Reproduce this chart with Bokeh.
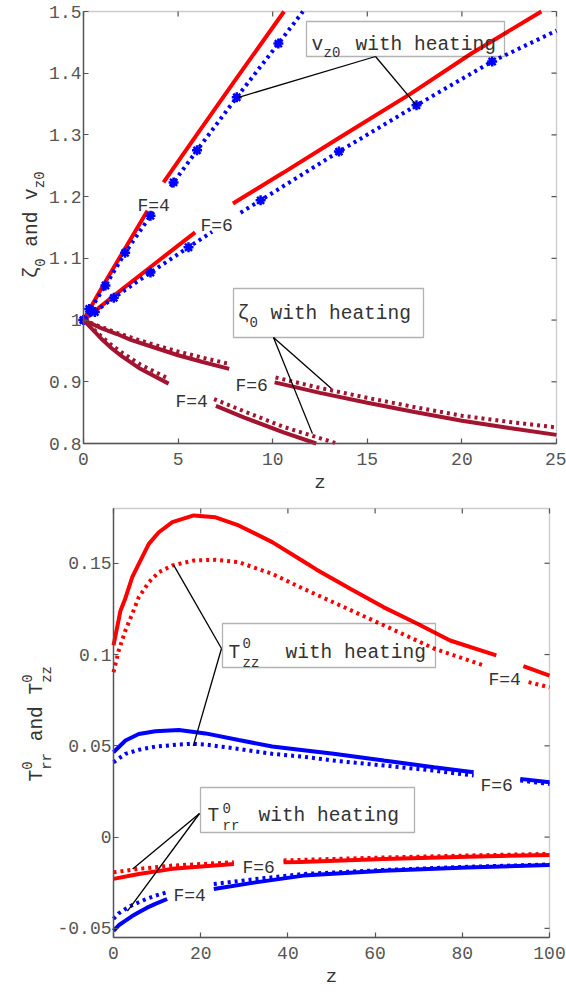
import math
from bokeh.plotting import figure
from bokeh.models import Range1d, FixedTicker, Label, BoxAnnotation
from bokeh.embed import file_html
from bokeh.resources import INLINE

nan = float("nan")

# ---------------- top panel data (z, zeta_0 / v_z0) ----------------
vz_f4_z = [0, 1, 2, 3.38, nan, 4.23, 6, 8, 10.6]
vz_f4 = [1.0, 1.054, 1.106, 1.177, nan, 1.223, 1.301, 1.388, 1.5]
vzh_f4_z = [0, 0.5, 1.16, 2.2, 3.54, 3.7, nan, 4.6, 4.76, 6.0, 8.1, 10.3, 11.6]
vzh_f4 = [1.0, 1.024, 1.056, 1.109, 1.169, 1.175, nan, 1.216, 1.223, 1.275, 1.361, 1.448, 1.5]
vzh_f4_star_z = [0, 0.3, 1.16, 2.2, 3.54, 4.76, 6.0, 8.1, 10.3]
vzh_f4_star = [1.0, 1.018, 1.056, 1.109, 1.169, 1.223, 1.275, 1.361, 1.448]

vz_f6_z = [0, 2, 4, 5.9, nan, 7.9, 10.57, 13.5, 17.3, 20.5, 24.2]
vz_f6 = [1.0, 1.049, 1.097, 1.142, nan, 1.189, 1.239, 1.295, 1.367, 1.432, 1.5]
vzh_f6_z = [0, 1.6, 3.54, 5.55, 6.8, nan, 8.3, 9.36, 13.5, 17.6, 21.6, 25]
vzh_f6 = [1.0, 1.036, 1.077, 1.118, 1.143, nan, 1.174, 1.194, 1.273, 1.348, 1.419, 1.469]
vzh_f6_star_z = [0, 0.6, 1.6, 3.54, 5.55, 9.36, 13.5, 17.6, 21.6]
vzh_f6_star = [1.0, 1.013, 1.036, 1.077, 1.118, 1.194, 1.273, 1.348, 1.419]

zeta_f6_z = [0, 0.5, 1, 1.8, 2.5, 3.5, 5, 6.3, 7.7, nan, 10.1, 12.5, 15, 17.5, 20, 22.5, 25]
zeta_f6 = [1.0, 0.993, 0.986, 0.977, 0.968, 0.958, 0.943, 0.932, 0.921, nan,
           0.899, 0.882, 0.866, 0.851, 0.837, 0.825, 0.814]
zetah_f6_z = [0, 0.5, 1, 1.8, 2.5, 3.5, 5, 6.3, 7.7, nan, 10.15, 12.5, 15, 17.5, 20, 22.5, 25]
zetah_f6 = [1.0, 0.994, 0.988, 0.979, 0.972, 0.962, 0.949, 0.939, 0.929, nan,
            0.907, 0.890, 0.874, 0.859, 0.845, 0.835, 0.826]

zeta_f4_z = [0, 0.5, 1, 1.5, 2, 3, 4.5, nan, 7.0, 8.5, 10.57, 12.3]
zeta_f4 = [1.0, 0.984, 0.968, 0.954, 0.942, 0.921, 0.897, nan, 0.861, 0.842, 0.818, 0.8]
zetah_f4_z = [0, 0.5, 1, 1.5, 2, 3, 4.5, nan, 6.9, 8.5, 10.57, 13.4]
zetah_f4 = [1.0, 0.986, 0.972, 0.959, 0.948, 0.928, 0.905, nan, 0.872, 0.852, 0.827, 0.8]

top_xlim = (0, 25)
top_ylim = (0.8, 1.5)
top_xticks = [0, 5, 10, 15, 20, 25]
top_yticks = [0.8, 0.9, 1.0, 1.1, 1.2, 1.3, 1.4, 1.5]
top_ylabels = ["0.8", "0.9", "1", "1.1", "1.2", "1.3", "1.4", "1.5"]

# ---------------- bottom panel data (z, T_rr^0 / T_zz^0) ----------------
tzz_f4_z = [0, 0.85, 1.6, 2.75, 4.3, 5.8, 8.1, 10.4, 13.5, 18.4, 23.4, 28.7, 36.4, 43.6,
            46.6, 54.3, 61.9, 69.6, 77.2, 87.8, nan, 94, 100]
tzz_f4 = [0.105, 0.115, 0.124, 0.131, 0.1424, 0.1497, 0.1606, 0.167, 0.1725, 0.1762, 0.1752,
          0.1707, 0.1616, 0.151, 0.1465, 0.136, 0.126, 0.117, 0.1077, 0.0995, nan, 0.0936, 0.0885]
tzzh_f4_z = [0, 1.2, 2.75, 4.3, 5.8, 8.1, 10.4, 13.5, 18.4, 23.4, 28.7, 36.4, 43.6, 51, 59.6,
             66, 73.8, 84.9, nan, 95.2, 100]
tzzh_f4 = [0.0903, 0.1022, 0.1133, 0.1223, 0.1314, 0.1396, 0.1451, 0.1488, 0.1515, 0.1519,
           0.1506, 0.1442, 0.136, 0.128, 0.1186, 0.1116, 0.103, 0.094, nan, 0.0849, 0.082]

tzz_f6_z = [0, 2.75, 5.8, 9.6, 15, 21.1, 28.7, 36.4, 43.6, 50.5, 62, 73.5, 82.6, nan, 93.3, 100]
tzz_f6 = [0.0465, 0.0529, 0.0565, 0.058, 0.0587, 0.0568, 0.0532, 0.0496, 0.0476, 0.0456,
          0.0419, 0.0383, 0.0355, nan, 0.0319, 0.030]
tzzh_f6_z = [0, 2.75, 5.8, 9.6, 15, 18.1, 21.1, 28.7, 36.4, 43.6, 50.5, 62, 73.5, 82.6, nan, 93.3, 100]
tzzh_f6 = [0.041, 0.0456, 0.0478, 0.0496, 0.0507, 0.0511, 0.0507, 0.0483, 0.0456, 0.0440,
           0.0419, 0.0392, 0.0364, 0.0337, nan, 0.031, 0.0291]

trr_f6_z = [0, 5.8, 13.5, 27.6, nan, 39, 42.9, 62, 81.1, 100]
trr_f6 = [-0.0229, -0.0202, -0.0174, -0.0147, nan, -0.0138, -0.0136, -0.012, -0.0107, -0.0098]
trrh_f6_z = [0, 5.8, 13.5, 27.6, nan, 39, 42.9, 62, 81.1, 100]
trrh_f6 = [-0.0193, -0.0174, -0.0156, -0.0138, nan, -0.0128, -0.0125, -0.0112, -0.0101, -0.0092]

trr_f4_z = [0, 1.2, 2.75, 4.2, 5.8, 7.6, 9.6, 12.3, nan, 23, 32.6, 43.6, 62, 81.1, 100]
trr_f4 = [-0.0513, -0.0483, -0.0458, -0.0434, -0.0412, -0.0388, -0.0366, -0.0339, nan,
          -0.0284, -0.0248, -0.0211, -0.0184, -0.0166, -0.0153]
trrh_f4_z = [0, 1.2, 2.75, 4.2, 5.8, 7.6, 9.6, 12.3, nan, 23, 32.6, 43.6, 62, 81.1, 100]
trrh_f4 = [-0.0448, -0.0418, -0.0394, -0.0374, -0.0357, -0.0338, -0.0321, -0.0302, nan,
           -0.0257, -0.023, -0.0202, -0.018, -0.0163, -0.015]

bot_xlim = (0, 100)
bot_ylim = (-0.055, 0.18)
bot_xticks = [0, 20, 40, 60, 80, 100]
bot_yticks = [-0.05, 0, 0.05, 0.1, 0.15]
bot_ylabels = ["-0.05", "0", "0.05", "0.1", "0.15"]

# leader-line targets on curves (data coords)
vz_targets = [(8.2, 1.361), (17.6, 1.348)]
zeta_targets = [(13.1, 0.889), (12.1, 0.816)]
tzz_targets = [(13.8, 0.149), (18.3, 0.050)]
trr_targets = [(4.4, -0.0175), (3.2, -0.0405)]

RED = "#FF0000"
BLUE = "#0000FF"
DRED = "#A2142F"
AX = "#555555"
TXT = "#333333"
FONT = "Liberation Mono"
LW = 4
DOT = "3 4"
W = 566
CH = 11.7   # advance of one 19.5px mono character
SCH = 8.4   # advance of one 14px mono character


def make_fig(fx, fy, h, yoff, xlim, ylim, xt, yt, ylabels):
    """Frame covers the whole canvas; axes are pinned at the data box edges."""
    p = figure(width=W, height=h, x_range=Range1d(fx(0), fx(W)),
               y_range=Range1d(fy(yoff + h), fy(yoff)),
               output_backend="svg", toolbar_location=None,
               min_border=0, min_border_left=0, min_border_right=0,
               min_border_top=0, min_border_bottom=0)
    p.xgrid.visible = False
    p.ygrid.visible = False
    p.outline_line_color = None
    p.background_fill_color = "white"
    p.border_fill_color = "white"
    xa = p.xaxis[0]
    ya = p.yaxis[0]
    xa.fixed_location = ylim[0]
    ya.fixed_location = xlim[0]
    xa.bounds = xlim
    ya.bounds = ylim
    xa.ticker = FixedTicker(ticks=xt)
    ya.ticker = FixedTicker(ticks=yt)
    ya.major_label_overrides = {t: l for t, l in zip(yt, ylabels)}
    xa.major_label_overrides = {t: str(t) for t in xt}
    for ax in (xa, ya):
        ax.major_tick_in = 5
        ax.major_tick_out = 0
        ax.minor_tick_line_color = None
        ax.axis_line_color = AX
        ax.axis_line_width = 1.4
        ax.major_tick_line_color = AX
        ax.major_tick_line_width = 1.2
        ax.major_label_text_font = FONT
        ax.major_label_text_font_size = "18px"
        ax.major_label_text_color = AX
    xa.major_label_standoff = 9
    ya.major_label_standoff = 2
    xa.axis_label = "z"
    xa.axis_label_text_font = FONT
    xa.axis_label_text_font_size = "19px"
    xa.axis_label_text_font_style = "normal"
    xa.axis_label_text_color = TXT
    xa.axis_label_standoff = 4
    # frame box
    p.add_layout(BoxAnnotation(left=xlim[0], right=xlim[1], bottom=ylim[0], top=ylim[1],
                               fill_alpha=0, line_color=AX, line_width=1.4, level="underlay"))
    # inward ticks on the top and right frame edges (5 px)
    dy = fy(yoff) - fy(yoff + 5)
    dx = fx(5) - fx(0)
    p.segment(x0=xt, y0=[ylim[1]] * len(xt), x1=xt, y1=[ylim[1] - dy] * len(xt),
              color=AX, line_width=1.2)
    p.segment(x0=[xlim[1]] * len(yt), y0=yt, x1=[xlim[1] - dx] * len(yt), y1=yt,
              color=AX, line_width=1.2)
    return p


def txt(p, x, y, s, size, color=TXT, angle=0.0):
    p.add_layout(Label(x=x, y=y, text=s, text_font=FONT, text_font_size=f"{size}px",
                       text_color=color, angle=angle, text_align="left",
                       text_baseline="alphabetic"))


A = math.pi / 2

# ---------- TOP ----------
TX0, TX1, TY0, TY1 = 83, 556, 11, 443
def tfx(px):
    return (px - TX0) / (TX1 - TX0) * (top_xlim[1] - top_xlim[0]) + top_xlim[0]
def tfy(py):
    return top_ylim[1] - (py - TY0) / (TY1 - TY0) * (top_ylim[1] - top_ylim[0])

top = make_fig(tfx, tfy, 500, 0, top_xlim, top_ylim, top_xticks, top_yticks, top_ylabels)

top.line(vz_f4_z, vz_f4, color=RED, line_width=LW)
top.line(vz_f6_z, vz_f6, color=RED, line_width=LW)
top.line(vzh_f4_z, vzh_f4, color=BLUE, line_width=LW, line_dash=DOT)
top.line(vzh_f6_z, vzh_f6, color=BLUE, line_width=LW, line_dash=DOT)
top.scatter(vzh_f4_star_z, vzh_f4_star, marker="asterisk", size=10, line_width=2.5, color=BLUE)
top.scatter(vzh_f6_star_z, vzh_f6_star, marker="asterisk", size=10, line_width=2.5, color=BLUE)
top.line(zeta_f6_z, zeta_f6, color=DRED, line_width=LW)
top.line(zetah_f6_z, zetah_f6, color=DRED, line_width=LW, line_dash=DOT)
top.line(zeta_f4_z, zeta_f4, color=DRED, line_width=LW)
top.line(zetah_f4_z, zetah_f4, color=DRED, line_width=LW, line_dash=DOT)

for (zx, zy) in vz_targets:
    top.segment(x0=[tfx(375)], y0=[tfy(56)], x1=[zx], y1=[zy], color="black", line_width=1.3)
for (zx, zy) in zeta_targets:
    top.segment(x0=[tfx(273)], y0=[tfy(337)], x1=[zx], y1=[zy], color="black", line_width=1.3)

top.add_layout(BoxAnnotation(left=tfx(306), right=tfx(504), top=tfy(21), bottom=tfy(56),
                             fill_alpha=0, line_color="black", line_width=1.3))
top.add_layout(BoxAnnotation(left=tfx(233), right=tfx(423), top=tfy(288), bottom=tfy(337),
                             fill_alpha=0, line_color="black", line_width=1.3))
txt(top, tfx(311), tfy(44), "v", 19.5)
txt(top, tfx(323), tfy(52), "z0", 14)
txt(top, tfx(355), tfy(44), "with heating", 19.5)
txt(top, tfx(237), tfy(313), "ζ", 19.5)
txt(top, tfx(249), tfy(321), "0", 14)
txt(top, tfx(270), tfy(313), "with heating", 19.5)

txt(top, tfx(137), tfy(205), "F=4", 18)
txt(top, tfx(200), tfy(225), "F=6", 18)
txt(top, tfx(235), tfy(385), "F=6", 18)
txt(top, tfx(175), tfy(401), "F=4", 18)

# rotated y label: ζ0 and vz0  (reads upward)
y0 = 278
txt(top, tfx(31), tfy(y0), "ζ", 19.5, angle=A)
y0 -= CH
txt(top, tfx(39), tfy(y0), "0", 14, angle=A)
y0 -= SCH * 1 + CH          # subscript then one space
txt(top, tfx(31), tfy(y0), "and v", 19.5, angle=A)
y0 -= 5 * CH
txt(top, tfx(39), tfy(y0), "z0", 14, angle=A)

# ---------- BOTTOM ----------
BX0, BX1, BY0, BY1 = 113, 549, 508, 937
def bfx(px):
    return (px - BX0) / (BX1 - BX0) * (bot_xlim[1] - bot_xlim[0]) + bot_xlim[0]
def bfy(py):
    return bot_ylim[1] - (py - BY0) / (BY1 - BY0) * (bot_ylim[1] - bot_ylim[0])

bot = make_fig(bfx, bfy, 496, 500, bot_xlim, bot_ylim, bot_xticks, bot_yticks, bot_ylabels)

bot.line(tzz_f4_z, tzz_f4, color=RED, line_width=LW)
bot.line(tzzh_f4_z, tzzh_f4, color=RED, line_width=LW, line_dash=DOT)
bot.line(tzz_f6_z, tzz_f6, color=BLUE, line_width=LW)
bot.line(tzzh_f6_z, tzzh_f6, color=BLUE, line_width=LW, line_dash=DOT)
bot.line(trr_f6_z, trr_f6, color=RED, line_width=LW)
bot.line(trrh_f6_z, trrh_f6, color=RED, line_width=LW, line_dash=DOT)
bot.line(trr_f4_z, trr_f4, color=BLUE, line_width=LW)
bot.line(trrh_f4_z, trrh_f4, color=BLUE, line_width=LW, line_dash=DOT)

for (zx, zy) in tzz_targets:
    bot.segment(x0=[bfx(221)], y0=[bfy(648)], x1=[zx], y1=[zy], color="black", line_width=1.3)
for (zx, zy) in trr_targets:
    bot.segment(x0=[bfx(199)], y0=[bfy(813)], x1=[zx], y1=[zy], color="black", line_width=1.3)

bot.add_layout(BoxAnnotation(left=bfx(222), right=bfx(435), top=bfy(623), bottom=bfy(667),
                             fill_alpha=0, line_color="black", line_width=1.3))
bot.add_layout(BoxAnnotation(left=bfx(200), right=bfx(414), top=bfy(787), bottom=bfy(832),
                             fill_alpha=0, line_color="black", line_width=1.3))
txt(bot, bfx(228), bfy(652), "T", 19.5)
txt(bot, bfx(242), bfy(642), "0", 14)
txt(bot, bfx(242), bfy(662), "zz", 14)
txt(bot, bfx(285), bfy(652), "with heating", 19.5)
txt(bot, bfx(207), bfy(815), "T", 19.5)
txt(bot, bfx(222), bfy(807), "0", 14)
txt(bot, bfx(222), bfy(825), "rr", 14)
txt(bot, bfx(258), bfy(815), "with heating", 19.5)

txt(bot, bfx(488), bfy(679), "F=4", 18)
txt(bot, bfx(480), bfy(785), "F=6", 18)
txt(bot, bfx(242), bfy(867), "F=6", 18)
txt(bot, bfx(173), bfy(895), "F=4", 18)

# rotated y label: T0rr and T0zz  (reads upward)
y0 = 781
txt(bot, bfx(36), bfy(y0), "T", 19.5, angle=A)
y0 -= CH
txt(bot, bfx(26), bfy(y0), "0", 14, angle=A)
txt(bot, bfx(46), bfy(y0), "rr", 14, angle=A)
y0 -= SCH * 2 + CH          # subscript then one space
txt(bot, bfx(36), bfy(y0), "and T", 19.5, angle=A)
y0 -= 5 * CH
txt(bot, bfx(26), bfy(y0), "0", 14, angle=A)
txt(bot, bfx(46), bfy(y0), "zz", 14, angle=A)

p = [top, bot]
open("out.html", "w").write(file_html(p, INLINE))
